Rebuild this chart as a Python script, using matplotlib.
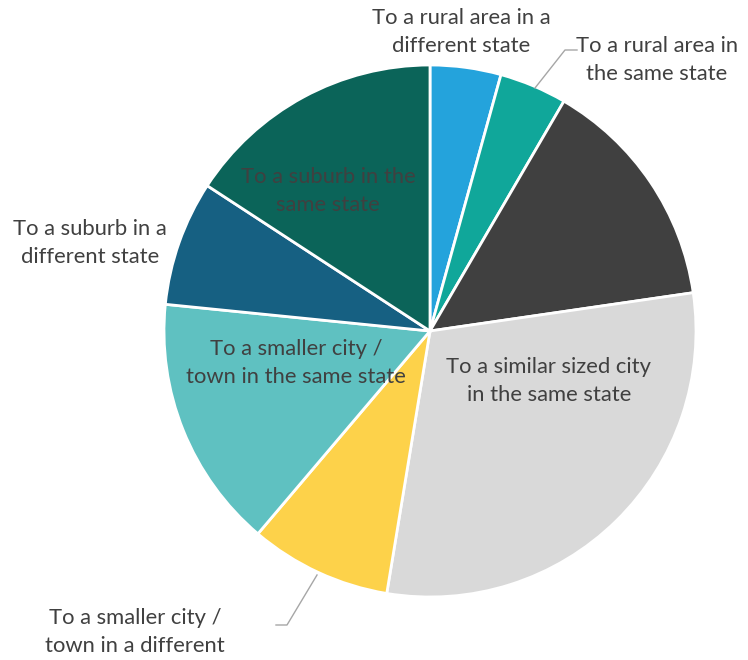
import matplotlib
matplotlib.use("Agg")
import matplotlib.pyplot as plt

categories = [
    "To a rural area in a\ndifferent state",
    "To a rural area in\nthe same state",
    "To a similar sized city\nin a different state",
    "To a similar sized city\nin the same state",
    "To a smaller city /\ntown in a different",
    "To a smaller city /\ntown in the same state",
    "To a suburb in a\ndifferent state",
    "To a suburb in the\nsame state",
]
values = [4.3, 4.1, 14.3, 29.9, 8.6, 15.4, 7.6, 15.8]
colors = ["#24a3dc", "#10a79a", "#404040", "#d9d9d9", "#fdd24a", "#5fc1c1", "#166082", "#0b6459"]
show_label = [True, True, False, True, True, True, True, True]

W, H = 748, 660
fig = plt.figure(figsize=(W / 100, H / 100), dpi=100)
ax = fig.add_axes([0, 0, 1, 1])
cx, cy, R = 430, H - 331, 266

wedges, _ = ax.pie(values, colors=colors, startangle=90, counterclock=False,
                   center=(cx, cy), radius=R,
                   wedgeprops=dict(edgecolor="white", linewidth=2.0))
ax.set_xlim(0, W)
ax.set_ylim(0, H)
ax.set_aspect("equal")
ax.axis("off")

tc = "#404040"
fs = 15.8
fam = ["Lato", "DejaVu Sans"]
# label positions in pixel coordinates (x, y from top)
label_pos = [(461, 32), (657, 60), (600, 200), (549, 381), (135, 632), (296, 363), (90, 243), (328, 191)]
for lab, (px, py), show in zip(categories, label_pos, show_label):
    if not show:
        continue
    ax.text(px, H - py, lab, ha="center", va="center", fontsize=fs, color=tc,
            family=fam, linespacing=1.55)

lc = "#a6a6a6"
ax.plot([535, 565, 577], [H - 88, H - 50, H - 50], color=lc, lw=1.0)
ax.plot([317, 287, 276], [H - 575, H - 625, H - 625], color=lc, lw=1.0)

fig.savefig("out.png", dpi=100)
